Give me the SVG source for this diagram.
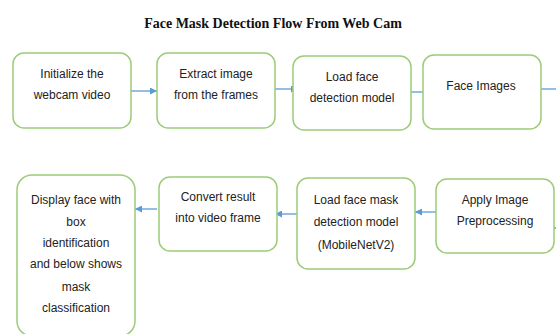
<svg xmlns="http://www.w3.org/2000/svg" width="556" height="334" viewBox="0 0 556 334">
<defs>
<style>
.box{fill:#fff;stroke:#9ccc78;stroke-width:1.5}
.t{font-family:"Liberation Sans",Arial,sans-serif;font-size:12px;fill:#222;text-anchor:middle}
.title{font-family:"Liberation Serif","Times New Roman",serif;font-size:14px;font-weight:bold;fill:#111;text-anchor:middle}
.c{stroke:#5b9bd5;stroke-width:1.3;fill:none}
</style>
<marker id="ah" viewBox="0 0 10 10" refX="10" refY="5" markerWidth="7" markerHeight="7" orient="auto" markerUnits="userSpaceOnUse">
<path d="M0,0 L10,5 L0,10 z" fill="#5b9bd5"/>
</marker>
</defs>
<rect width="556" height="334" fill="#fff"/>
<text class="title" x="273" y="28">Face Mask Detection Flow From Web Cam</text>
<g id="connectors">
<line class="c" x1="131" y1="91" x2="157" y2="91" marker-end="url(#ah)"/>
<line class="c" x1="271" y1="89" x2="298" y2="89" marker-end="url(#ah)"/>
<line class="c" x1="404" y1="92" x2="432" y2="92" marker-end="url(#ah)"/>
<line class="c" x1="541" y1="89" x2="556" y2="89"/>
<line class="c" x1="554" y1="228" x2="556" y2="228"/>
<line class="c" x1="436" y1="212" x2="415" y2="212" marker-end="url(#ah)"/>
<line class="c" x1="297" y1="214" x2="275" y2="214" marker-end="url(#ah)"/>
<line class="c" x1="157" y1="209" x2="135" y2="209" marker-end="url(#ah)"/>
</g>
<g id="n1"><rect class="box" x="13" y="53" width="118" height="75" rx="11"/>
<text class="t" x="72" y="78">Initialize the</text><text class="t" x="72" y="99">webcam video</text></g>
<g id="n2"><rect class="box" x="157" y="53" width="118" height="75" rx="11"/>
<text class="t" x="216" y="78">Extract image</text><text class="t" x="216" y="99">from the frames</text></g>
<g id="n3"><rect class="box" x="293" y="56" width="118" height="74" rx="11"/>
<text class="t" x="352" y="81">Load face</text><text class="t" x="352" y="102">detection model</text></g>
<g id="n4"><rect class="box" x="423" y="55" width="118" height="74" rx="11"/>
<text class="t" x="481" y="90">Face Images</text></g>
<g id="n5"><rect class="box" x="436" y="179" width="118" height="74" rx="11"/>
<text class="t" x="495" y="204">Apply Image</text><text class="t" x="495" y="225">Preprocessing</text></g>
<g id="n6"><rect class="box" x="297" y="178" width="118" height="91" rx="11"/>
<text class="t" x="356" y="204">Load face mask</text><text class="t" x="356" y="226">detection model</text><text class="t" x="356" y="249">(MobileNetV2)</text></g>
<g id="n7"><rect class="box" x="159" y="177" width="118" height="74" rx="11"/>
<text class="t" x="218" y="201">Convert result</text><text class="t" x="218" y="222">into video frame</text></g>
<g id="n8"><rect class="box" x="17" y="175" width="118" height="161" rx="15"/>
<text class="t" x="76" y="204">Display face with</text><text class="t" x="76" y="226">box</text><text class="t" x="76" y="247">identification</text><text class="t" x="76" y="268">and below shows</text><text class="t" x="76" y="291">mask</text><text class="t" x="76" y="312">classification</text></g>
</svg>
